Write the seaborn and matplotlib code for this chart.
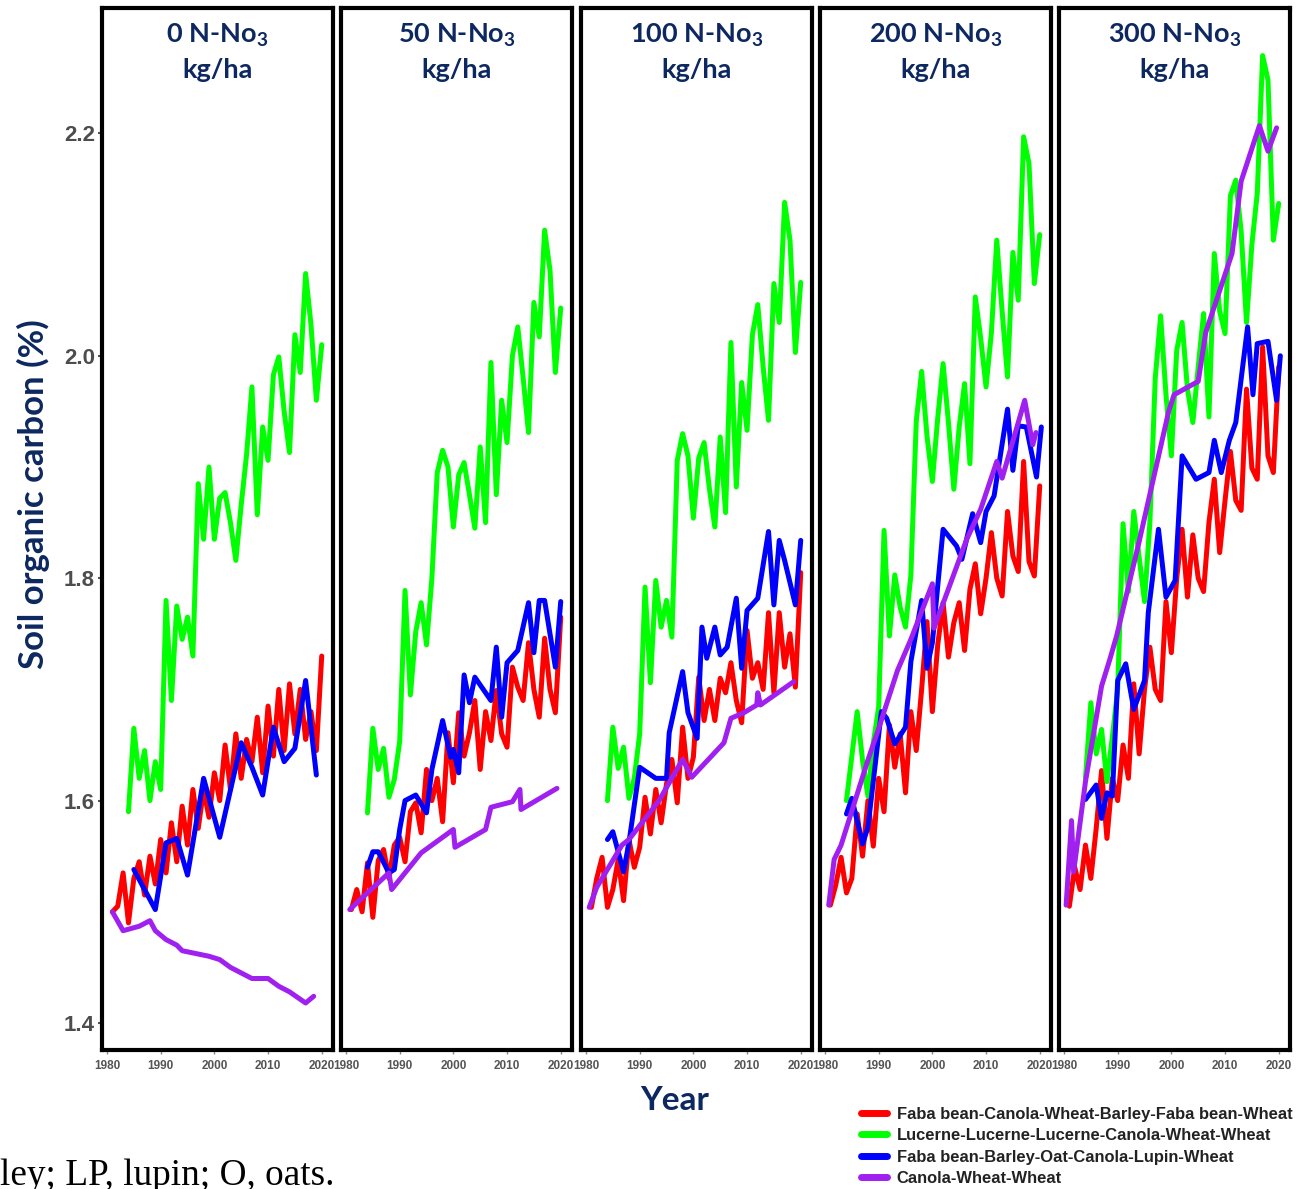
import matplotlib
matplotlib.use("Agg")
import matplotlib.pyplot as plt
from matplotlib.lines import Line2D
import numpy as np
import pandas as pd
import seaborn as sns

sns.set_theme(style="white")
plt.rcParams["font.family"] = ["Lato", "DejaVu Sans"]
plt.rcParams["mathtext.fontset"] = "custom"
plt.rcParams["mathtext.rm"] = "Lato:bold"
plt.rcParams["mathtext.it"] = "Lato:bold"
plt.rcParams["mathtext.bf"] = "Lato:bold"

# ---- data -------------------------------------------------------------
rotations = [
    "Faba bean-Canola-Wheat-Barley-Faba bean-Wheat",
    "Lucerne-Lucerne-Lucerne-Canola-Wheat-Wheat",
    "Faba bean-Barley-Oat-Canola-Lupin-Wheat",
    "Canola-Wheat-Wheat",
]
rotation_colors = ["#ff0000", "#00ff00", "#0000ff", "#a020f0"]
n_rates = ["0", "50", "100", "200", "300"]

years_red = list(range(1981, 2021))
years_green = list(range(1984, 2021))

red_0 = [1.50, 1.505, 1.535, 1.49, 1.53, 1.545, 1.515, 1.55, 1.525, 1.565,
         1.535, 1.58, 1.545, 1.595, 1.56, 1.61, 1.575, 1.61, 1.585, 1.625,
         1.60, 1.65, 1.61, 1.66, 1.62, 1.655, 1.635, 1.675, 1.625, 1.685,
         1.64, 1.70, 1.645, 1.705, 1.66, 1.70, 1.655, 1.68, 1.645, 1.73]
red_50 = [1.502, 1.52, 1.50, 1.544, 1.495, 1.546, 1.556, 1.53, 1.56, 1.567,
          1.545, 1.59, 1.598, 1.571, 1.628, 1.60, 1.62, 1.581, 1.661, 1.616,
          1.679, 1.64, 1.661, 1.69, 1.628, 1.68, 1.654, 1.699, 1.66, 1.648,
          1.72, 1.702, 1.69, 1.742, 1.70, 1.675, 1.746, 1.70, 1.679, 1.765]
red_100 = [1.504, 1.53, 1.549, 1.504, 1.52, 1.547, 1.51, 1.565, 1.54, 1.558,
           1.603, 1.57, 1.61, 1.58, 1.615, 1.637, 1.598, 1.666, 1.62, 1.639,
           1.711, 1.672, 1.70, 1.672, 1.71, 1.697, 1.724, 1.69, 1.67, 1.753,
           1.71, 1.724, 1.70, 1.769, 1.697, 1.769, 1.72, 1.75, 1.702, 1.805]
red_200 = [1.506, 1.524, 1.549, 1.517, 1.53, 1.588, 1.55, 1.60, 1.559, 1.62,
           1.59, 1.668, 1.63, 1.66, 1.607, 1.68, 1.645, 1.70, 1.761, 1.68,
           1.74, 1.778, 1.729, 1.76, 1.778, 1.735, 1.79, 1.813, 1.768, 1.80,
           1.841, 1.80, 1.784, 1.86, 1.82, 1.806, 1.905, 1.815, 1.802, 1.883]
red_300 = [1.505, 1.54, 1.52, 1.56, 1.53, 1.575, 1.627, 1.566, 1.62, 1.60,
           1.65, 1.62, 1.705, 1.642, 1.70, 1.738, 1.70, 1.69, 1.779, 1.733,
           1.80, 1.844, 1.783, 1.839, 1.80, 1.788, 1.85, 1.889, 1.823, 1.87,
           1.914, 1.87, 1.861, 1.97, 1.899, 1.889, 2.008, 1.91, 1.895, 1.99]

green_0 = [1.59, 1.665, 1.62, 1.645, 1.60, 1.635, 1.61, 1.78, 1.69, 1.775,
           1.745, 1.765, 1.73, 1.885, 1.835, 1.90, 1.835, 1.872, 1.877, 1.85,
           1.816, 1.866, 1.911, 1.972, 1.857, 1.936, 1.906, 1.983, 1.999, 1.95,
           1.913, 2.019, 1.985, 2.074, 2.028, 1.96, 2.01]
green_50 = [1.589, 1.665, 1.628, 1.647, 1.603, 1.619, 1.653, 1.789, 1.695, 1.752,
            1.778, 1.74, 1.80, 1.895, 1.915, 1.90, 1.846, 1.893, 1.904, 1.875,
            1.845, 1.918, 1.85, 1.994, 1.875, 1.96, 1.922, 2.0, 2.026, 1.98,
            1.931, 2.048, 2.017, 2.113, 2.077, 1.985, 2.043]
green_100 = [1.60, 1.666, 1.629, 1.648, 1.602, 1.62, 1.66, 1.792, 1.706, 1.798,
             1.756, 1.78, 1.747, 1.906, 1.93, 1.91, 1.854, 1.908, 1.922, 1.88,
             1.846, 1.927, 1.859, 2.012, 1.882, 1.976, 1.933, 2.019, 2.046, 1.99,
             1.942, 2.065, 2.03, 2.138, 2.104, 2.003, 2.066]
green_200 = [1.60, 1.64, 1.68, 1.636, 1.604, 1.652, 1.684, 1.843, 1.748, 1.803,
             1.774, 1.756, 1.803, 1.941, 1.986, 1.928, 1.887, 1.944, 1.993, 1.94,
             1.88, 1.936, 1.975, 1.903, 2.053, 2.016, 1.972, 2.021, 2.104, 2.04,
             1.981, 2.093, 2.05, 2.197, 2.173, 2.065, 2.109]
green_300 = [1.62, 1.688, 1.642, 1.664, 1.617, 1.657, 1.70, 1.849, 1.788, 1.86,
             1.819, 1.779, 1.85, 1.98, 2.036, 1.965, 1.91, 2.005, 2.03, 1.97,
             1.94, 1.99, 2.038, 1.945, 2.092, 2.04, 2.02, 2.144, 2.158, 2.112,
             2.03, 2.1, 2.146, 2.27, 2.248, 2.104, 2.137]

blue_years_0 = [1985, 1989, 1991, 1993, 1995, 1998, 2001, 2005, 2007, 2009,
                2011, 2013, 2015, 2017, 2019]
blue_0 = [1.538, 1.502, 1.562, 1.566, 1.533, 1.62, 1.567, 1.652, 1.63, 1.605,
          1.666, 1.635, 1.647, 1.708, 1.623]
blue_years_50 = [1984, 1985, 1986, 1988, 1989, 1990, 1991, 1993, 1995, 1996,
                 1998, 1999.5, 2000, 2001, 2002, 2003, 2004, 2007, 2008, 2009,
                 2010, 2012, 2014, 2015, 2016, 2017, 2019, 2020]
blue_50 = [1.54, 1.554, 1.554, 1.535, 1.538, 1.574, 1.60, 1.605, 1.589, 1.628,
           1.672, 1.639, 1.646, 1.625, 1.713, 1.688, 1.711, 1.69, 1.738, 1.675,
           1.724, 1.735, 1.778, 1.733, 1.78, 1.78, 1.72, 1.779]
blue_years_100 = [1984, 1985, 1987, 1988, 1990, 1993, 1995, 1995.5, 1998, 1999,
                  2000.7, 2001.6, 2002.5, 2004, 2005, 2006.3, 2008, 2009, 2010, 2012,
                  2014, 2015, 2016, 2017, 2019, 2020]
blue_100 = [1.565, 1.572, 1.536, 1.562, 1.63, 1.62, 1.62, 1.661, 1.716, 1.679,
            1.656, 1.756, 1.728, 1.756, 1.731, 1.738, 1.782, 1.719, 1.771, 1.782,
            1.842, 1.776, 1.834, 1.816, 1.776, 1.834]
blue_years_200 = [1984, 1985, 1987, 1988, 1990.5, 1991.5, 1993, 1995, 1996, 1998,
                  1999, 2000, 2002, 2004.5, 2005.5, 2007.5, 2009, 2010, 2011.5, 2014,
                  2015, 2016, 2017.5, 2019.4, 2020.3]
blue_200 = [1.588, 1.602, 1.561, 1.576, 1.68, 1.674, 1.651, 1.666, 1.725, 1.78,
            1.719, 1.742, 1.844, 1.829, 1.817, 1.858, 1.832, 1.86, 1.874, 1.952,
            1.897, 1.937, 1.936, 1.891, 1.936]
blue_years_300 = [1984, 1986, 1987, 1988, 1989, 1990, 1991.5, 1993, 1995, 1995.7,
                  1997.6, 1999, 2000.7, 2002, 2004.6, 2007, 2008, 2009.3, 2010.8, 2012,
                  2014.2, 2015.2, 2016, 2018, 2019.6, 2020.3]
blue_300 = [1.601, 1.614, 1.584, 1.607, 1.604, 1.708, 1.723, 1.682, 1.708, 1.769,
            1.844, 1.783, 1.798, 1.91, 1.889, 1.895, 1.924, 1.895, 1.924, 1.94,
            2.026, 1.965, 2.011, 2.013, 1.96, 2.0]

purple_years_0 = [1981, 1983, 1986, 1988, 1989, 1991, 1993, 1994, 1999, 2001,
                  2003, 2005, 2007, 2010, 2012, 2014, 2017, 2018.5]
purple_0 = [1.50, 1.483, 1.487, 1.492, 1.483, 1.475, 1.47, 1.465, 1.46, 1.457,
            1.45, 1.445, 1.44, 1.44, 1.433, 1.428, 1.418, 1.424]
purple_years_50 = [1980.7, 1982, 1988, 1988.5, 1994, 2000, 2000.3, 2006, 2007, 2011,
                   2012.4, 2012.6, 2019.3]
purple_50 = [1.502, 1.508, 1.535, 1.52, 1.553, 1.574, 1.558, 1.574, 1.594, 1.599,
             1.61, 1.592, 1.611]
purple_years_100 = [1980.6, 1982, 1986.7, 1988, 1993.6, 1998, 1999.7, 2005.7, 2007, 2009.4,
                    2011.8, 2012, 2012.5, 2018.7]
purple_100 = [1.504, 1.522, 1.56, 1.565, 1.60, 1.637, 1.621, 1.652, 1.674, 1.679,
              1.686, 1.697, 1.686, 1.707]
purple_years_200 = [1980.7, 1981.7, 1983, 1987.9, 1990, 1993.5, 1996, 2000, 2000.3, 2006.4,
                    2009, 2012, 2013, 2017.2, 2018.7, 2019.3]
purple_200 = [1.506, 1.547, 1.56, 1.635, 1.665, 1.717, 1.745, 1.795, 1.755, 1.835,
              1.862, 1.905, 1.89, 1.96, 1.92, 1.931]
purple_years_300 = [1980.4, 1981.4, 1981.8, 1984, 1987, 1988.6, 1989.8, 1994, 1999.5, 2000.5,
                    2005, 2006.4, 2011.3, 2013, 2016.4, 2018, 2019.6]
purple_300 = [1.506, 1.582, 1.536, 1.617, 1.703, 1.728, 1.748, 1.833, 1.95, 1.965,
              1.977, 2.021, 2.092, 2.157, 2.207, 2.184, 2.205]

series = {
    "0": [(years_red, red_0), (years_green, green_0), (blue_years_0, blue_0), (purple_years_0, purple_0)],
    "50": [(years_red, red_50), (years_green, green_50), (blue_years_50, blue_50), (purple_years_50, purple_50)],
    "100": [(years_red, red_100), (years_green, green_100), (blue_years_100, blue_100), (purple_years_100, purple_100)],
    "200": [(years_red, red_200), (years_green, green_200), (blue_years_200, blue_200), (purple_years_200, purple_200)],
    "300": [(years_red, red_300), (years_green, green_300), (blue_years_300, blue_300), (purple_years_300, purple_300)],
}

rows = []
for rate in n_rates:
    for rot, (yrs, vals) in zip(rotations, series[rate]):
        for yr, v in zip(yrs, vals):
            rows.append({"rate": rate, "rotation": rot, "year": yr, "soc": v})
df = pd.DataFrame(rows)

# ---- figure -----------------------------------------------------------
W, H = 1305, 1189
fig = plt.figure(figsize=(W / 100, H / 100), dpi=100)
fig.patch.set_facecolor("white")

navy = "#0d2860"
tick_grey = "#4d4d4d"
panel_left = [102, 341, 581, 820, 1059]
panel_w = 231
top_px, bot_px = 8, 1050

for i, rate in enumerate(n_rates):
    ax = fig.add_axes([panel_left[i] / W, 1 - bot_px / H, panel_w / W, (bot_px - top_px) / H])
    sub = df[df["rate"] == rate]
    sns.lineplot(data=sub, x="year", y="soc", hue="rotation", hue_order=rotations,
                 palette=rotation_colors, estimator=None, legend=False, ax=ax,
                 linewidth=3.6, solid_joinstyle="round", solid_capstyle="round")
    ax.set_xlim(1979.07, 2022.1)
    ax.set_ylim(1.3757, 2.3128)
    ax.set_xlabel("")
    ax.set_ylabel("")
    ax.set_facecolor("white")
    for sp in ax.spines.values():
        sp.set_visible(True)
        sp.set_color("black")
        sp.set_linewidth(3)
    ax.set_xticks([1980, 1990, 2000, 2010, 2020])
    ax.set_xticklabels(["1980", "1990", "2000", "2010", "2020"],
                       family=["Liberation Sans", "DejaVu Sans"],
                       fontweight="bold", fontsize=8.5, color="#555555")
    ax.tick_params(axis="x", bottom=True, length=3, width=1, color="#888888", pad=4)
    ax.set_yticks([1.4, 1.6, 1.8, 2.0, 2.2])
    if i == 0:
        ax.set_yticklabels(["1.4", "1.6", "1.8", "2.0", "2.2"],
                           family=["Liberation Sans", "DejaVu Sans"],
                           fontweight="bold", fontsize=16, color=tick_grey)
        ax.tick_params(axis="y", left=True, length=3, width=1.5, color="#555555", pad=2)
    else:
        ax.tick_params(axis="y", left=False, labelleft=False)
    ax.text(0.5, 0.9664, f"{rate} N-No$_3$", transform=ax.transAxes, ha="center",
            va="baseline", fontsize=19.5, fontweight="bold", color=navy)
    ax.text(0.5, 0.9328, "kg/ha", transform=ax.transAxes, ha="center",
            va="baseline", fontsize=19.5, fontweight="bold", color=navy)

fig.text(33 / W, 1 - 494 / H, "Soil organic carbon (%)", rotation=90, ha="center",
         va="center", fontsize=25, fontweight="bold", color=navy)
fig.text(675 / W, 1 - 1100 / H, "Year", ha="center", va="center",
         fontsize=24, fontweight="bold", color=navy)

handles = [Line2D([0], [0], color=c, lw=5) for c in rotation_colors]
leg = fig.legend(handles, rotations, loc="upper left", bbox_to_anchor=(861 / W, 1 - 1107 / H),
                 frameon=False, borderaxespad=0, borderpad=0, handlelength=1.6,
                 handletextpad=0.55, labelspacing=0.38,
                 prop={"family": ["Liberation Sans", "DejaVu Sans"], "weight": "bold", "size": 11.9})
for t in leg.get_texts():
    t.set_color("#222222")

fig.text(0 / W, 1 - 1185 / H, "ley; LP, lupin; O, oats.", ha="left", va="baseline",
         family=["Liberation Serif", "DejaVu Serif"], fontsize=26.8, color="black")

fig.savefig("out.png", dpi=100, facecolor="white")
